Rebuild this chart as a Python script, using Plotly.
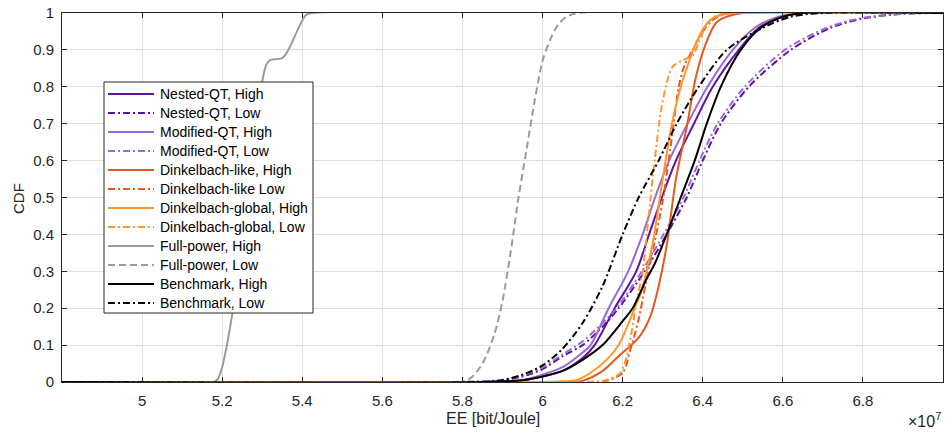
import plotly.graph_objects as go

# ---------------- data (EE in units of 1e7 bit/Joule, CDF) ----------------
nested_high_x = [4.8, 5.85, 5.95, 6.00, 6.05, 6.10, 6.13, 6.18, 6.234, 6.266, 6.298, 6.333, 6.378, 6.425, 6.49, 6.54, 6.60, 6.65, 7.0]
nested_high_y = [0, 0, 0.005, 0.015, 0.03, 0.065, 0.1, 0.2, 0.3, 0.4, 0.5, 0.6, 0.7, 0.8, 0.9, 0.96, 0.99, 1.0, 1.0]

nested_low_x = [4.8, 5.80, 5.90, 5.95, 6.00, 6.05, 6.10, 6.15, 6.19, 6.255, 6.31, 6.36, 6.40, 6.445, 6.515, 6.62, 6.72, 6.80, 6.90, 7.0]
nested_low_y = [0, 0, 0.005, 0.015, 0.035, 0.07, 0.1, 0.15, 0.2, 0.3, 0.4, 0.5, 0.6, 0.7, 0.8, 0.9, 0.96, 0.985, 0.998, 1.0]

modified_high_x = [4.8, 5.85, 5.95, 6.00, 6.05, 6.10, 6.12, 6.165, 6.214, 6.25, 6.281, 6.316, 6.362, 6.412, 6.475, 6.53, 6.59, 6.65, 7.0]
modified_high_y = [0, 0, 0.005, 0.02, 0.04, 0.08, 0.1, 0.2, 0.3, 0.4, 0.5, 0.6, 0.7, 0.8, 0.9, 0.96, 0.99, 1.0, 1.0]

modified_low_x = [4.8, 5.80, 5.90, 5.95, 6.00, 6.05, 6.10, 6.15, 6.185, 6.248, 6.302, 6.352, 6.392, 6.437, 6.505, 6.605, 6.71, 6.79, 6.90, 7.0]
modified_low_y = [0, 0, 0.006, 0.018, 0.04, 0.075, 0.11, 0.16, 0.2, 0.3, 0.4, 0.5, 0.6, 0.7, 0.8, 0.9, 0.96, 0.985, 0.998, 1.0]

dlike_high_x = [4.8, 6.05, 6.10, 6.15, 6.19, 6.24, 6.27, 6.29, 6.31, 6.333, 6.35, 6.36, 6.383, 6.408, 6.433, 6.46, 6.50, 7.0]
dlike_high_y = [0, 0, 0.003, 0.03, 0.07, 0.12, 0.18, 0.26, 0.37, 0.55, 0.64, 0.69, 0.827, 0.918, 0.973, 0.99, 1.0, 1.0]

dlike_low_x = [4.8, 6.12, 6.16, 6.20, 6.22, 6.24, 6.26, 6.28, 6.30, 6.315, 6.325, 6.34, 6.355, 6.375, 6.40, 6.43, 6.47, 7.0]
dlike_low_y = [0, 0, 0.003, 0.025, 0.09, 0.17, 0.28, 0.38, 0.49, 0.6, 0.68, 0.8, 0.86, 0.9, 0.95, 0.985, 1.0, 1.0]

dglob_high_x = [4.8, 6.00, 6.05, 6.085, 6.12, 6.16, 6.19, 6.23, 6.245, 6.274, 6.30, 6.323, 6.345, 6.36, 6.38, 6.40, 6.425, 6.46, 6.50, 7.0]
dglob_high_y = [0, 0, 0.002, 0.005, 0.025, 0.06, 0.1, 0.2, 0.24, 0.37, 0.55, 0.70, 0.8, 0.85, 0.91, 0.955, 0.986, 0.998, 1.0, 1.0]

dglob_low_x = [4.8, 6.10, 6.15, 6.19, 6.205, 6.22, 6.235, 6.25, 6.265, 6.28, 6.295, 6.31, 6.325, 6.35, 6.375, 6.39, 6.41, 6.43, 6.46, 7.0]
dglob_low_y = [0, 0, 0.003, 0.02, 0.05, 0.12, 0.22, 0.30, 0.45, 0.6, 0.73, 0.81, 0.855, 0.872, 0.885, 0.92, 0.97, 0.99, 1.0, 1.0]

full_high_x = [4.8, 5.18, 5.19, 5.20, 5.21, 5.22, 5.235, 5.25, 5.265, 5.28, 5.29, 5.30, 5.31, 5.32, 5.335, 5.35, 5.36, 5.37, 5.385, 5.40, 5.41, 5.425, 7.0]
full_high_y = [0, 0, 0.01, 0.04, 0.09, 0.15, 0.25, 0.36, 0.52, 0.67, 0.76, 0.815, 0.86, 0.872, 0.875, 0.878, 0.89, 0.91, 0.946, 0.98, 0.995, 1.0, 1.0]

full_low_x = [4.8, 5.80, 5.82, 5.85, 5.88, 5.90, 5.92, 5.94, 5.96, 5.98, 6.00, 6.02, 6.04, 6.06, 6.09, 7.0]
full_low_y = [0, 0, 0.01, 0.05, 0.13, 0.22, 0.35, 0.5, 0.63, 0.76, 0.87, 0.93, 0.97, 0.99, 1.0, 1.0]

bench_high_x = [4.8, 5.85, 5.95, 6.00, 6.05, 6.10, 6.15, 6.20, 6.225, 6.26, 6.28, 6.31, 6.345, 6.38, 6.41, 6.445, 6.495, 6.545, 6.60, 6.65, 7.0]
bench_high_y = [0, 0, 0.005, 0.015, 0.03, 0.06, 0.1, 0.165, 0.2, 0.28, 0.32, 0.4, 0.5, 0.6, 0.7, 0.8, 0.9, 0.96, 0.99, 1.0, 1.0]

bench_low_x = [4.8, 5.85, 5.90, 5.95, 6.00, 6.05, 6.10, 6.15, 6.20, 6.24, 6.29, 6.335, 6.39, 6.46, 6.55, 6.62, 6.70, 7.0]
bench_low_y = [0, 0, 0.005, 0.02, 0.045, 0.09, 0.16, 0.26, 0.4, 0.5, 0.6, 0.7, 0.8, 0.9, 0.96, 0.99, 1.0, 1.0]

x_tick_vals = [5.0, 5.2, 5.4, 5.6, 5.8, 6.0, 6.2, 6.4, 6.6, 6.8]
x_tick_text = ["5", "5.2", "5.4", "5.6", "5.8", "6", "6.2", "6.4", "6.6", "6.8"]
y_tick_vals = [0, 0.1, 0.2, 0.3, 0.4, 0.5, 0.6, 0.7, 0.8, 0.9, 1.0]
y_tick_text = ["0", "0.1", "0.2", "0.3", "0.4", "0.5", "0.6", "0.7", "0.8", "0.9", "1"]

# ---------------- styles ----------------
C_NESTED = "rgb(94,18,160)"
C_MOD = "rgb(155,105,215)"
C_DLIKE = "rgb(228,88,34)"
C_DGLOB = "rgb(255,150,45)"
C_FULL = "rgb(155,155,155)"
C_BENCH = "rgb(0,0,0)"
DASHDOT = "7px,3px,2px,3px"
DASH = "7px,4px"

series = [
    ("Nested-QT, High", nested_high_x, nested_high_y, C_NESTED, "solid"),
    ("Nested-QT, Low", nested_low_x, nested_low_y, C_NESTED, DASHDOT),
    ("Modified-QT, High", modified_high_x, modified_high_y, C_MOD, "solid"),
    ("Modified-QT, Low", modified_low_x, modified_low_y, C_MOD, DASHDOT),
    ("Dinkelbach-like, High", dlike_high_x, dlike_high_y, C_DLIKE, "solid"),
    ("Dinkelbach-like Low", dlike_low_x, dlike_low_y, C_DLIKE, DASHDOT),
    ("Dinkelbach-global, High", dglob_high_x, dglob_high_y, C_DGLOB, "solid"),
    ("Dinkelbach-global, Low", dglob_low_x, dglob_low_y, C_DGLOB, DASHDOT),
    ("Full-power, High", full_high_x, full_high_y, C_FULL, "solid"),
    ("Full-power, Low", full_low_x, full_low_y, C_FULL, DASH),
    ("Benchmark, High", bench_high_x, bench_high_y, C_BENCH, "solid"),
    ("Benchmark, Low", bench_low_x, bench_low_y, C_BENCH, DASHDOT),
]

FONT = "Liberation Sans, Arial, sans-serif"
AX = "rgb(38,38,38)"
W, H = 945, 432
ML, MR, MT, MB = 62, 2, 13, 50
PW, PH = W - ML - MR, H - MT - MB


def px_to_paper_x(px):
    return (px - ML) / PW


def py_to_paper_y(py):
    return (H - MB - py) / PH


fig = go.Figure()
for name, xs, ys, col, dash in series:
    fig.add_trace(go.Scatter(
        x=xs, y=ys, mode="lines", name=name, showlegend=False,
        line=dict(color=col, width=2, dash=dash, shape="spline", smoothing=0.8),
    ))

# ---------------- legend (box, samples, labels) ----------------
LEG_L, LEG_R, LEG_T, LEG_B = 104, 313, 82, 313
ROW0, ROW_DY = 94, 19
shapes = [dict(type="rect", xref="paper", yref="paper",
               x0=px_to_paper_x(LEG_L), x1=px_to_paper_x(LEG_R),
               y0=py_to_paper_y(LEG_B), y1=py_to_paper_y(LEG_T),
               line=dict(color=AX, width=1), fillcolor="white", layer="above")]
annotations = []
for i, (name, xs, ys, col, dash) in enumerate(series):
    yy = py_to_paper_y(ROW0 + ROW_DY * i)
    shapes.append(dict(type="line", xref="paper", yref="paper",
                       x0=px_to_paper_x(108), x1=px_to_paper_x(154), y0=yy, y1=yy,
                       line=dict(color=col, width=2, dash=dash), layer="above"))
    annotations.append(dict(text=name, xref="paper", yref="paper",
                            x=px_to_paper_x(158), y=yy, xanchor="left", yanchor="middle",
                            showarrow=False, font=dict(family=FONT, size=14, color="black")))

annotations += [
    dict(text="EE [bit/Joule]", xref="paper", yref="paper", x=px_to_paper_x(493), y=0,
         xanchor="center", yanchor="middle", yshift=-36, showarrow=False,
         font=dict(family=FONT, size=16, color=AX)),
    dict(text="CDF", xref="paper", yref="paper", x=0, y=py_to_paper_y(199), textangle=-90,
         xanchor="center", yanchor="middle", xshift=-44, showarrow=False,
         font=dict(family=FONT, size=15, color=AX)),
    dict(text="×10<sup>7</sup>", xref="paper", yref="paper", x=1, y=0,
         xanchor="right", yanchor="middle", yshift=-38, xshift=0, showarrow=False,
         font=dict(family=FONT, size=16, color=AX)),
]

axis_common = dict(
    showline=True, linecolor=AX, linewidth=1, mirror="ticks",
    ticks="inside", ticklen=5, tickcolor=AX, tickwidth=1,
    showgrid=True, gridcolor="rgb(223,223,223)", gridwidth=1,
    zeroline=False, tickfont=dict(family=FONT, size=15, color=AX),
)

fig.update_layout(
    width=W, height=H,
    margin=dict(l=ML, r=MR, t=MT, b=MB),
    paper_bgcolor="white", plot_bgcolor="white",
    font=dict(family=FONT, size=14, color=AX),
    xaxis=dict(range=[4.8, 7.0], tickvals=x_tick_vals, ticktext=x_tick_text,
               ticklabelstandoff=5, **axis_common),
    yaxis=dict(range=[0, 1], tickvals=y_tick_vals, ticktext=y_tick_text,
               ticklabelstandoff=4, **axis_common),
    showlegend=False,
    shapes=shapes,
    annotations=annotations,
)

fig.write_html("out.html")
